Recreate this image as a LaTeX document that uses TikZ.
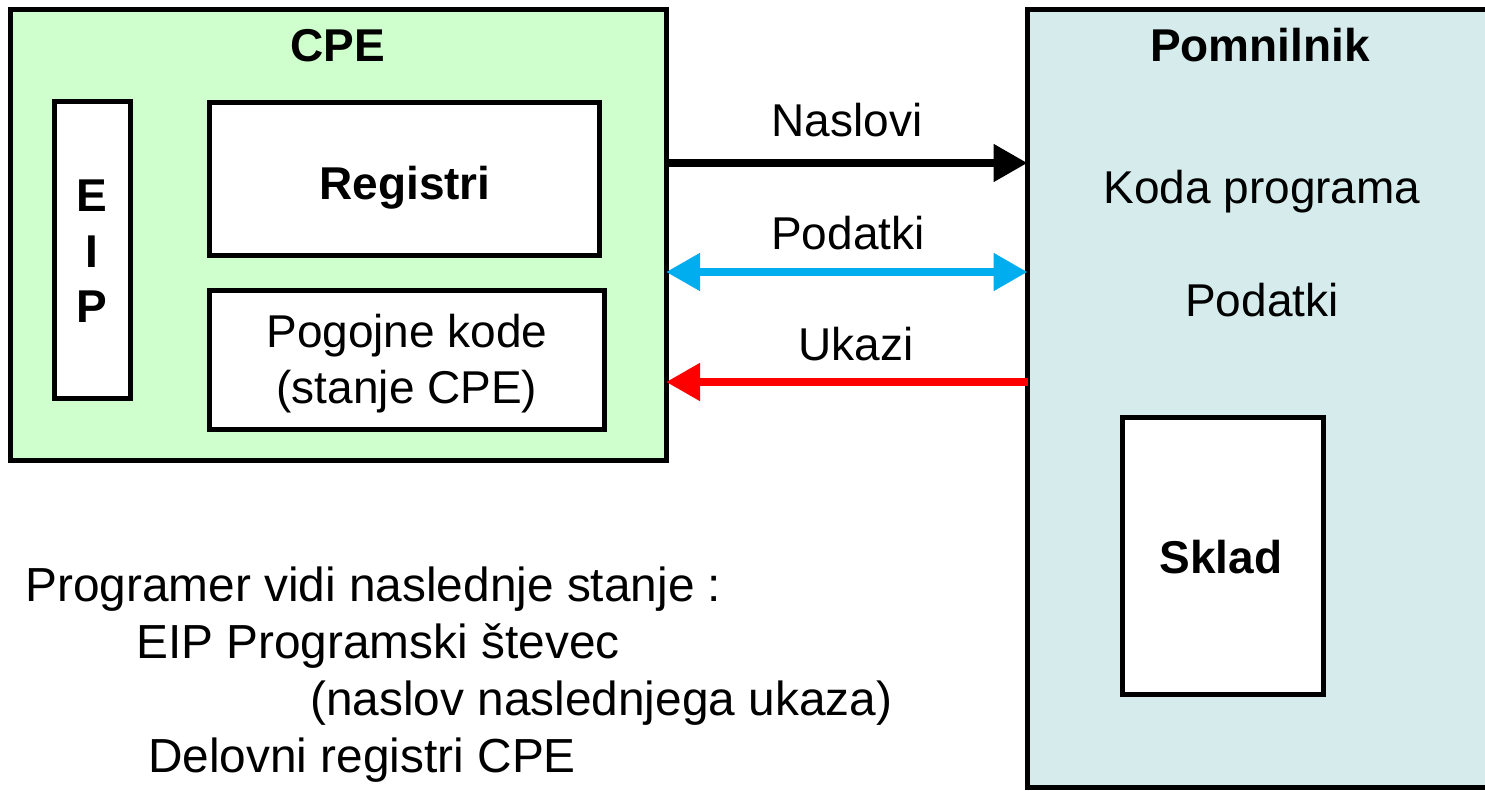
\documentclass[tikz,border=0pt]{standalone}
\usepackage{fontspec}
\setmainfont{Liberation Sans}
\usetikzlibrary{arrows.meta}
\definecolor{cpugreen}{RGB}{206,255,204}
\definecolor{memfill}{RGB}{214,236,236}
\definecolor{busblue}{RGB}{0,174,239}
\definecolor{busred}{RGB}{255,0,0}
\tikzset{bustip/.tip={Triangle[length=34pt,width=36pt]}}
\begin{document}
\begin{tikzpicture}[x=1pt,y=-1pt,
  box/.style={draw=black,line width=5pt,inner sep=0pt,outer sep=0pt},
  lbl/.style={font=\fontsize{46}{55}\selectfont,anchor=base,inner sep=0pt},
  blbl/.style={font=\fontsize{46}{55}\selectfont\bfseries,anchor=base,inner sep=0pt},
  note/.style={font=\fontsize{47.8}{57}\selectfont,anchor=base west,inner sep=0pt},
  bus/.style={line width=8pt}]
\useasboundingbox (0,0) rectangle (1485,791);
\clip (0,0) rectangle (1485,791);

% processor
\node[box,fill=cpugreen,minimum width=656pt,minimum height=450pt] (cpe) at (338,235) {};
\node[blbl] (cpelbl) at (338,62) {CPE};
\node[box,fill=white,minimum width=76pt,minimum height=296pt] (eip) at (92.5,250) {};
\node[blbl] (eipE) at (92,212) {E};
\node[blbl] (eipI) at (92,268) {I};
\node[blbl] (eipP) at (92,323) {P};
\node[box,fill=white,minimum width=390pt,minimum height=153pt] (reg) at (404.5,179) {};
\node[blbl] (reglbl) at (405,200) {Registri};
\node[box,fill=white,minimum width=395pt,minimum height=139pt] (cc) at (407,360) {};
\node[lbl] (cclbla) at (407,348) {Pogojne kode};
\node[lbl] (cclblb) at (407,403) {(stanje CPE)};

% memory
\node[box,fill=memfill,minimum width=480pt,minimum height=777pt] (mem) at (1267.5,398.5) {};
\node[blbl] (memlbl) at (1260,62) {Pomnilnik};
\node[lbl] (code) at (1262,204) {Koda programa};
\node[lbl] (data) at (1262,317) {Podatki};
\node[box,fill=white,minimum width=201pt,minimum height=277pt] (stack) at (1223,556) {};
\node[blbl] (stacklbl) at (1221,573) {Sklad};

% buses
\coordinate (yA) at (0,163);
\coordinate (yD) at (0,272);
\coordinate (yI) at (0,382);
\draw[bus,black,-bustip] (cpe.east |- yA) -- (mem.west |- yA);
\draw[bus,busblue,bustip-bustip] (cpe.east |- yD) -- (mem.west |- yD);
\draw[bus,busred,-bustip] (mem.west |- yI) -- (cpe.east |- yI);
\node[lbl] (alab) at (847,137) {Naslovi};
\node[lbl] (dlab) at (848,250) {Podatki};
\node[lbl] (ilab) at (856,360) {Ukazi};

% programmer's view
\node[note] (n1) at (25,601) {Programer vidi naslednje stanje :};
\node[note] (n2) at (136,658) {EIP Programski števec};
\node[note] (n3) at (310,715) {(naslov naslednjega ukaza)};
\node[note] (n4) at (148,772) {Delovni registri CPE};
\end{tikzpicture}
\end{document}
